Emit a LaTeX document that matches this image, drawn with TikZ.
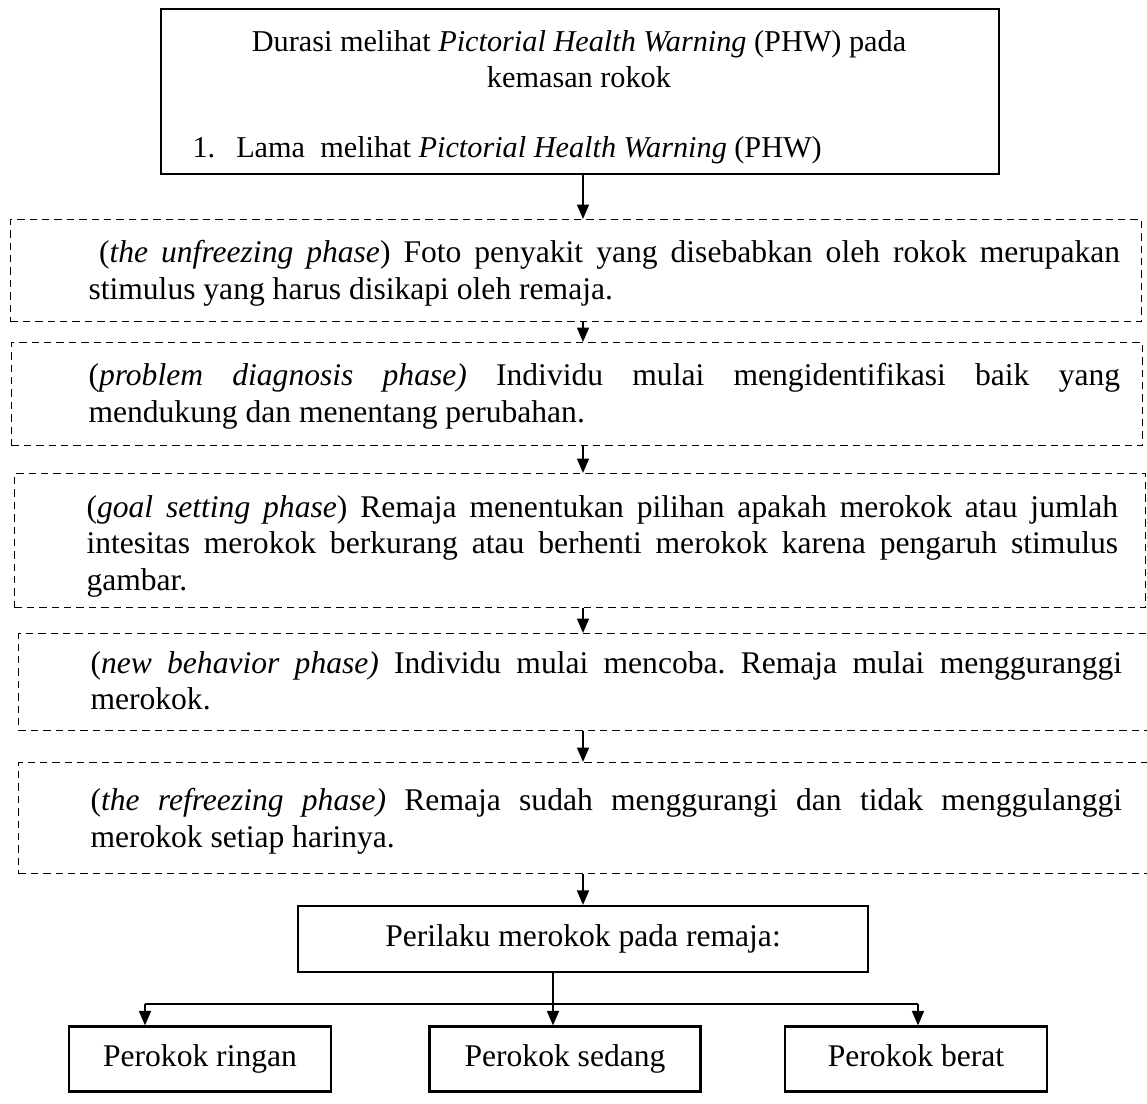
\documentclass[tikz,border=0pt]{standalone}
\usepackage{fontspec}
\setmainfont{Liberation Serif}
\usetikzlibrary{calc}
\usetikzlibrary{arrows.meta}
\hyphenpenalty=10000
\emergencystretch=4em
\frenchspacing

\tikzset{
  kotak/.style={draw, line width=0.8pt, inner sep=0pt, text height=8.4pt, text depth=2.6pt, font=\fontsize{12}{13.8}\selectfont},
  fase/.style={draw, line width=0.5pt, dash pattern=on 2.8pt off 1.9pt, inner sep=0pt, anchor=north west},
  isi/.style={text width=392pt, align=justify, inner sep=0pt, anchor=north west, font=\fontsize{12}{13.8}\selectfont},
  teks/.style={inner sep=0pt, font=\fontsize{11.5}{13.8}\selectfont},
  panah/.style={-{Triangle[length=5.5pt,width=4.5pt]}, line width=0.8pt}
}

\begin{document}
\begin{tikzpicture}[x=0.38pt, y=-0.38pt]
  \clip (0,0) rectangle (1147,1104);
  \coordinate (sumbu) at (583,0);

  \node [kotak, anchor=north west, minimum width=838*0.38pt, minimum height=165*0.38pt] (durasi) at (160,8) {};
  \node [teks, align=center, anchor=north] (judul) at (579,30) {Durasi melihat \textit{Pictorial Health Warning} (PHW) pada\\kemasan rokok};
  \node [teks, anchor=base west] (lama) at (192,157) {1.\hspace{8pt}Lama\ \ melihat \textit{Pictorial Health Warning} (PHW)};

  \node [fase, minimum width=1131*0.38pt, minimum height=102*0.38pt] (unfreeze) at (10,219) {};
  \node [isi] (t1) at (88,240) {\hspace*{4pt}(\textit{the unfreezing phase}) Foto penyakit yang disebabkan oleh rokok merupakan stimulus yang harus disikapi oleh remaja.};

  \node [fase, minimum width=1131*0.38pt, minimum height=103*0.38pt] (diagnosis) at (11,342) {};
  \node [isi] (t2) at (88,363) {(\textit{problem diagnosis phase)} Individu mulai mengidentifikasi baik yang\linebreak mendukung dan menentang perubahan.};

  \node [fase, minimum width=1131*0.38pt, minimum height=134*0.38pt] (goal) at (14,473) {};
  \node [isi] (t3) at (86,495) {(\textit{goal setting phase}) Remaja menentukan pilihan apakah merokok atau jumlah intesitas merokok berkurang atau berhenti merokok karena pengaruh stimulus gambar.};

  \node [fase, minimum width=1140*0.38pt, minimum height=97*0.38pt] (behavior) at (18,633) {};
  \node [isi] (t4) at (90,651) {(\textit{new behavior phase)} Individu mulai mencoba. Remaja mulai mengguranggi merokok.};

  \node [fase, minimum width=1140*0.38pt, minimum height=111*0.38pt] (refreeze) at (18,762) {};
  \node [isi] (t5) at (90,788) {(\textit{the refreezing phase)} Remaja sudah menggurangi dan tidak menggulanggi merokok setiap harinya.};

  \node [kotak, minimum width=570*0.38pt, minimum height=66*0.38pt] (perilaku) at (583,939) {Perilaku merokok pada remaja:};

  \coordinate (cabang) at (553,1004);
  \coordinate (kiri) at (145,1004);
  \coordinate (kanan) at (918,1004);
  \node [kotak, minimum width=262*0.38pt, minimum height=65*0.38pt] (ringan) at (200,1059) {Perokok ringan};
  \node [kotak, minimum width=271*0.38pt, minimum height=65*0.38pt] (sedang) at (565,1059) {Perokok sedang};
  \node [kotak, minimum width=262*0.38pt, minimum height=65*0.38pt] (berat) at (916,1059) {Perokok berat};

  \draw [panah] (sumbu |- durasi.south) -- (sumbu |- unfreeze.north);
  \draw [panah] (sumbu |- unfreeze.south) -- (sumbu |- diagnosis.north);
  \draw [panah] (sumbu |- diagnosis.south) -- (sumbu |- goal.north);
  \draw [panah] (sumbu |- goal.south) -- (sumbu |- behavior.north);
  \draw [panah] (sumbu |- behavior.south) -- (sumbu |- refreeze.north);
  \draw [panah] (sumbu |- refreeze.south) -- (sumbu |- perilaku.north);

  \draw [line width=0.8pt] (cabang |- perilaku.south) -- (cabang);
  \draw [line width=0.8pt] (kiri) -- (kanan);
  \draw [panah] (kiri) -- (kiri |- ringan.north);
  \draw [panah] (cabang) -- (cabang |- sedang.north);
  \draw [panah] (kanan) -- (kanan |- berat.north);
\end{tikzpicture}
\end{document}
